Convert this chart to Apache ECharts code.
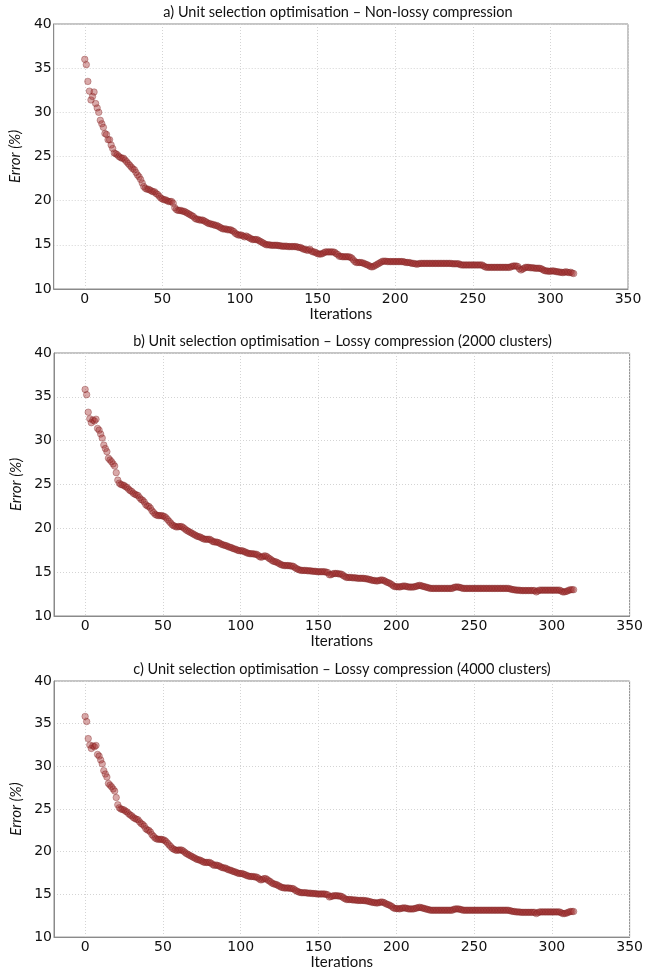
<!DOCTYPE html>
<html>
<head>
<meta charset="utf-8">
<script src="https://cdn.jsdelivr.net/npm/echarts@6/dist/echarts.min.js"></script>
<style>
  html, body { margin: 0; padding: 0; background: #fff; }
  #chart { width: 646px; height: 971px; }
</style>
</head>
<body>
<div id="chart"></div>
<script>
// Error (%) per optimisation iteration, one array per panel
const titles = [
  'a) Unit selection optimisation \u2013 Non-lossy compression',
  'b) Unit selection optimisation \u2013 Lossy compression (2000 clusters)',
  'c) Unit selection optimisation \u2013 Lossy compression (4000 clusters)'
];
const xTicks = [0, 50, 100, 150, 200, 250, 300, 350];
const yTicks = [10, 15, 20, 25, 30, 35, 40];

const errorNonLossy = [
  36.0, 35.4, 33.5, 32.4, 31.4, 31.8, 32.3, 31.0, 30.5, 30.0,
  29.1, 28.7, 28.3, 27.6, 27.5, 26.9, 26.9, 26.3, 25.9, 25.4,
  25.3, 25.2, 25.0, 24.9, 24.8, 24.8, 24.6, 24.4, 24.2, 24.0,
  23.8, 23.6, 23.5, 23.2, 22.9, 22.7, 22.4, 22.0, 21.6, 21.4,
  21.3, 21.3, 21.2, 21.1, 21.0, 21.0, 20.8, 20.7, 20.5, 20.3,
  20.2, 20.1, 20.1, 20.0, 19.9, 19.9, 19.9, 19.7, 19.2, 19.0,
  18.9, 18.9, 18.9, 18.8, 18.8, 18.7, 18.6, 18.5, 18.4, 18.3,
  18.2, 18.0, 17.9, 17.9, 17.8, 17.8, 17.8, 17.7, 17.6, 17.5,
  17.4, 17.4, 17.3, 17.3, 17.2, 17.2, 17.1, 17.0, 16.9, 16.8,
  16.8, 16.8, 16.7, 16.7, 16.7, 16.6, 16.5, 16.3, 16.2, 16.1,
  16.1, 16.1, 16.0, 15.9, 16.0, 15.9, 15.8, 15.7, 15.6, 15.6,
  15.6, 15.6, 15.5, 15.4, 15.3, 15.2, 15.1, 15.0, 15.0, 15.0,
  14.95, 14.95, 14.95, 14.95, 14.95, 14.9, 14.9, 14.85, 14.85, 14.85,
  14.85, 14.8, 14.8, 14.8, 14.8, 14.8, 14.8, 14.75, 14.7, 14.7,
  14.6, 14.5, 14.5, 14.4, 14.4, 14.5, 14.3, 14.2, 14.2, 14.1,
  14.0, 13.95, 13.95, 14.0, 14.1, 14.2, 14.2, 14.2, 14.2, 14.2,
  14.2, 14.15, 14.0, 13.9, 13.7, 13.7, 13.65, 13.65, 13.65, 13.65,
  13.65, 13.6, 13.5, 13.3, 13.1, 13.0, 13.0, 13.0, 13.0, 12.95,
  12.9, 12.8, 12.75, 12.65, 12.55, 12.5, 12.55, 12.65, 12.75, 12.85,
  12.95, 13.05, 13.15, 13.15, 13.15, 13.1, 13.1, 13.1, 13.1, 13.1,
  13.1, 13.1, 13.1, 13.1, 13.1, 13.1, 13.05, 13.0, 13.0, 13.0,
  12.95, 12.9, 12.9, 12.85, 12.8, 12.85, 12.9, 12.9, 12.9, 12.9,
  12.9, 12.9, 12.9, 12.9, 12.9, 12.9, 12.9, 12.9, 12.9, 12.9,
  12.9, 12.9, 12.9, 12.9, 12.9, 12.9, 12.9, 12.85, 12.85, 12.85,
  12.85, 12.85, 12.75, 12.72, 12.72, 12.72, 12.72, 12.72, 12.72, 12.72,
  12.72, 12.72, 12.72, 12.72, 12.72, 12.72, 12.72, 12.6, 12.5, 12.45,
  12.45, 12.45, 12.45, 12.45, 12.45, 12.45, 12.45, 12.45, 12.45, 12.45,
  12.45, 12.45, 12.45, 12.45, 12.45, 12.55, 12.6, 12.6, 12.6, 12.55,
  12.3, 12.15, 12.25, 12.35, 12.45, 12.45, 12.45, 12.4, 12.4, 12.4,
  12.35, 12.35, 12.35, 12.35, 12.3, 12.2, 12.1, 12.05, 12.05, 12.0,
  12.0, 12.05, 12.05, 12.0, 11.95, 11.95, 11.9, 11.9, 11.85, 11.9,
  11.95, 11.9, 11.85, 11.9, 11.8, 11.75
];

const errorLossy2000 = [
  35.85, 35.25, 33.25, 32.5, 32.05, 32.35, 32.25, 32.45, 31.4, 31.2,
  30.75, 30.3, 29.5, 29.1, 28.75, 28.0, 27.8, 27.6, 27.35, 27.1,
  26.35, 25.5, 25.15, 25.0, 24.95, 24.9, 24.75, 24.65, 24.45, 24.3,
  24.2, 24.0, 23.9, 23.8, 23.75, 23.5, 23.3, 23.2, 23.0, 22.7,
  22.55, 22.5, 22.3, 22.0, 21.8, 21.6, 21.5, 21.45, 21.45, 21.45,
  21.4, 21.35, 21.2, 21.0, 20.8, 20.6, 20.4, 20.3, 20.2, 20.15,
  20.2, 20.2, 20.2, 20.1, 19.95, 19.8, 19.7, 19.6, 19.5, 19.4,
  19.3, 19.2, 19.1, 19.05, 19.0, 18.9, 18.8, 18.75, 18.75, 18.75,
  18.75, 18.65, 18.5, 18.45, 18.45, 18.4, 18.35, 18.25, 18.15, 18.1,
  18.05, 18.0, 17.9, 17.85, 17.8, 17.7, 17.65, 17.6, 17.5, 17.45,
  17.45, 17.45, 17.35, 17.3, 17.2, 17.15, 17.1, 17.1, 17.1, 17.05,
  17.05, 16.95, 16.8, 16.7, 16.75, 16.85, 16.85, 16.75, 16.6, 16.5,
  16.35, 16.25, 16.2, 16.15, 16.05, 15.95, 15.85, 15.8, 15.75, 15.75,
  15.75, 15.75, 15.7, 15.7, 15.65, 15.5, 15.4, 15.3, 15.25, 15.2,
  15.2, 15.2, 15.2, 15.15, 15.15, 15.15, 15.1, 15.1, 15.1, 15.05,
  15.05, 15.05, 15.05, 15.05, 15.05, 15.0, 14.95, 14.7, 14.7, 14.8,
  14.85, 14.85, 14.85, 14.8, 14.8, 14.75, 14.6, 14.5, 14.4, 14.4,
  14.4, 14.4, 14.35, 14.35, 14.35, 14.3, 14.3, 14.3, 14.3, 14.3,
  14.25, 14.25, 14.2, 14.15, 14.1, 14.05, 14.05, 14.0, 14.0, 14.05,
  14.1, 14.1, 14.05, 13.95, 13.85, 13.8, 13.7, 13.6, 13.45, 13.35,
  13.35, 13.35, 13.3, 13.35, 13.4, 13.42, 13.4, 13.35, 13.3, 13.3,
  13.3, 13.3, 13.35, 13.4, 13.45, 13.5, 13.45, 13.4, 13.35, 13.3,
  13.25, 13.2, 13.15, 13.15, 13.15, 13.15, 13.15, 13.15, 13.15, 13.15,
  13.15, 13.15, 13.15, 13.15, 13.15, 13.15, 13.15, 13.25, 13.3, 13.3,
  13.3, 13.25, 13.2, 13.15, 13.15, 13.15, 13.15, 13.15, 13.15, 13.15,
  13.15, 13.15, 13.15, 13.15, 13.15, 13.15, 13.15, 13.15, 13.15, 13.15,
  13.15, 13.15, 13.15, 13.15, 13.15, 13.15, 13.15, 13.15, 13.15, 13.15,
  13.15, 13.15, 13.15, 13.1, 13.05, 13.0, 13.0, 12.95, 12.95, 12.95,
  12.9, 12.9, 12.9, 12.9, 12.9, 12.9, 12.9, 12.9, 12.9, 12.9,
  12.75, 12.85, 12.95, 12.95, 12.95, 12.95, 12.95, 12.95, 12.95, 12.95,
  12.95, 12.95, 12.95, 12.95, 12.95, 12.95, 12.85, 12.75, 12.75, 12.8,
  12.85, 12.95, 13.0, 13.0, 13.0
];

const errorLossy4000 = [
  35.85, 35.25, 33.25, 32.5, 32.1, 32.4, 32.3, 32.45, 31.4, 31.2,
  30.75, 30.3, 29.5, 29.1, 28.75, 28.0, 27.8, 27.6, 27.35, 27.1,
  26.35, 25.5, 25.15, 25.0, 24.95, 24.9, 24.75, 24.65, 24.45, 24.3,
  24.2, 24.0, 23.9, 23.8, 23.75, 23.5, 23.3, 23.2, 23.0, 22.7,
  22.55, 22.5, 22.3, 22.0, 21.8, 21.6, 21.5, 21.45, 21.45, 21.45,
  21.4, 21.35, 21.2, 21.0, 20.8, 20.6, 20.4, 20.3, 20.2, 20.15,
  20.2, 20.2, 20.2, 20.1, 19.95, 19.8, 19.7, 19.6, 19.5, 19.4,
  19.3, 19.2, 19.1, 19.05, 19.0, 18.9, 18.8, 18.75, 18.75, 18.75,
  18.75, 18.65, 18.5, 18.4, 18.45, 18.4, 18.35, 18.25, 18.15, 18.1,
  18.1, 18.0, 17.9, 17.85, 17.8, 17.7, 17.65, 17.6, 17.5, 17.45,
  17.45, 17.45, 17.35, 17.3, 17.2, 17.15, 17.1, 17.1, 17.1, 17.05,
  17.05, 16.95, 16.8, 16.7, 16.75, 16.85, 16.85, 16.75, 16.6, 16.5,
  16.35, 16.25, 16.2, 16.15, 16.05, 15.95, 15.85, 15.8, 15.75, 15.75,
  15.75, 15.75, 15.7, 15.7, 15.65, 15.5, 15.4, 15.3, 15.25, 15.2,
  15.2, 15.2, 15.2, 15.15, 15.15, 15.15, 15.1, 15.1, 15.1, 15.05,
  15.05, 15.05, 15.05, 15.05, 15.05, 15.0, 14.95, 14.7, 14.75, 14.8,
  14.85, 14.85, 14.85, 14.8, 14.8, 14.75, 14.6, 14.5, 14.4, 14.4,
  14.4, 14.4, 14.35, 14.35, 14.35, 14.3, 14.3, 14.3, 14.3, 14.3,
  14.25, 14.25, 14.2, 14.15, 14.1, 14.05, 14.05, 14.0, 14.0, 14.05,
  14.1, 14.1, 14.05, 13.95, 13.85, 13.8, 13.7, 13.6, 13.45, 13.35,
  13.35, 13.35, 13.3, 13.35, 13.4, 13.42, 13.4, 13.35, 13.3, 13.3,
  13.3, 13.3, 13.35, 13.4, 13.45, 13.5, 13.45, 13.4, 13.35, 13.3,
  13.25, 13.2, 13.15, 13.15, 13.15, 13.15, 13.15, 13.15, 13.15, 13.15,
  13.15, 13.15, 13.15, 13.15, 13.15, 13.15, 13.15, 13.25, 13.3, 13.3,
  13.3, 13.25, 13.2, 13.15, 13.15, 13.15, 13.15, 13.15, 13.15, 13.15,
  13.15, 13.15, 13.15, 13.15, 13.15, 13.15, 13.15, 13.15, 13.15, 13.15,
  13.15, 13.15, 13.15, 13.15, 13.15, 13.15, 13.15, 13.15, 13.15, 13.15,
  13.15, 13.15, 13.15, 13.1, 13.05, 13.0, 13.0, 12.95, 12.95, 12.95,
  12.9, 12.9, 12.9, 12.9, 12.9, 12.9, 12.9, 12.9, 12.9, 12.9,
  12.75, 12.85, 12.95, 12.95, 12.95, 12.95, 12.95, 12.95, 12.95, 12.95,
  12.95, 12.95, 12.95, 12.95, 12.95, 12.95, 12.85, 12.75, 12.75, 12.8,
  12.85, 12.95, 13.0, 13.0, 13.0
];

const panels = [errorNonLossy, errorLossy2000, errorLossy4000];

// Plot rectangles (left, top, width, height) for the three stacked panels
const boxes = [
  { left: 48, top: 24, width: 580, height: 265 },
  { left: 54, top: 353, width: 577, height: 263 },
  { left: 54, top: 681, width: 576, height: 262 }
];

const TEXT_FONT = 'Lato, "Open Sans", sans-serif';
const TICK_FONT = '"DejaVu Sans", sans-serif';
const frameColor = '#8a8a8a';
const gridColor = '#d4d4d4';

const chart = echarts.init(document.getElementById('chart'), null, { renderer: 'canvas' });

const option = {
  backgroundColor: '#ffffff',
  animation: false,
  title: boxes.map((b, k) => ({
    text: titles[k],
    left: b.left + b.width / 2,
    top: b.top - 19,
    textAlign: 'center',
    padding: 0,
    textStyle: { fontFamily: TEXT_FONT, fontSize: 14.5, fontWeight: 'normal', color: '#111' }
  })),
  grid: boxes.map(b => ({
    left: b.left, top: b.top, width: b.width, height: b.height,
    show: true, borderColor: frameColor, borderWidth: 1, backgroundColor: 'transparent',
    containLabel: false
  })),
  xAxis: boxes.map((b, k) => ({
    type: 'value', gridIndex: k, min: -20, max: 350,
    name: 'Iterations', nameLocation: 'middle', nameGap: 16,
    nameTextStyle: { fontFamily: TEXT_FONT, fontSize: 15, color: '#111', verticalAlign: 'top' },
    axisLine: { show: true, onZero: false, lineStyle: { color: frameColor, width: 1 } },
    axisTick: { show: false, customValues: xTicks },
    axisLabel: { customValues: xTicks, margin: 3, fontFamily: TICK_FONT, fontSize: 14, color: '#111' },
    splitLine: { show: true, lineStyle: { color: gridColor, type: [1, 2], width: 1 } }
  })),
  yAxis: boxes.map((b, k) => ({
    type: 'value', gridIndex: k, min: 10, max: 40, interval: 5,
    name: 'Error (%)', nameLocation: 'middle', nameGap: 24,
    nameTextStyle: { fontFamily: TEXT_FONT, fontSize: 15, fontStyle: 'italic', color: '#111' },
    axisLine: { show: true, onZero: false, lineStyle: { color: frameColor, width: 1 } },
    axisTick: { show: false },
    axisLabel: { margin: 2, fontFamily: TICK_FONT, fontSize: 14, color: '#111', formatter: v => String(v) },
    splitLine: { show: true, lineStyle: { color: gridColor, type: [1, 2], width: 1 } }
  })),
  series: panels.map((vals, k) => ({
    type: 'scatter',
    xAxisIndex: k, yAxisIndex: k,
    symbol: 'circle', symbolSize: 6.5,
    itemStyle: {
      color: 'rgba(160, 40, 40, 0.5)',
      borderColor: 'rgba(120, 30, 30, 0.55)',
      borderWidth: 0.8
    },
    data: vals.map((v, i) => [i, v])
  }))
};

chart.setOption(option);
</script>
</body>
</html>
